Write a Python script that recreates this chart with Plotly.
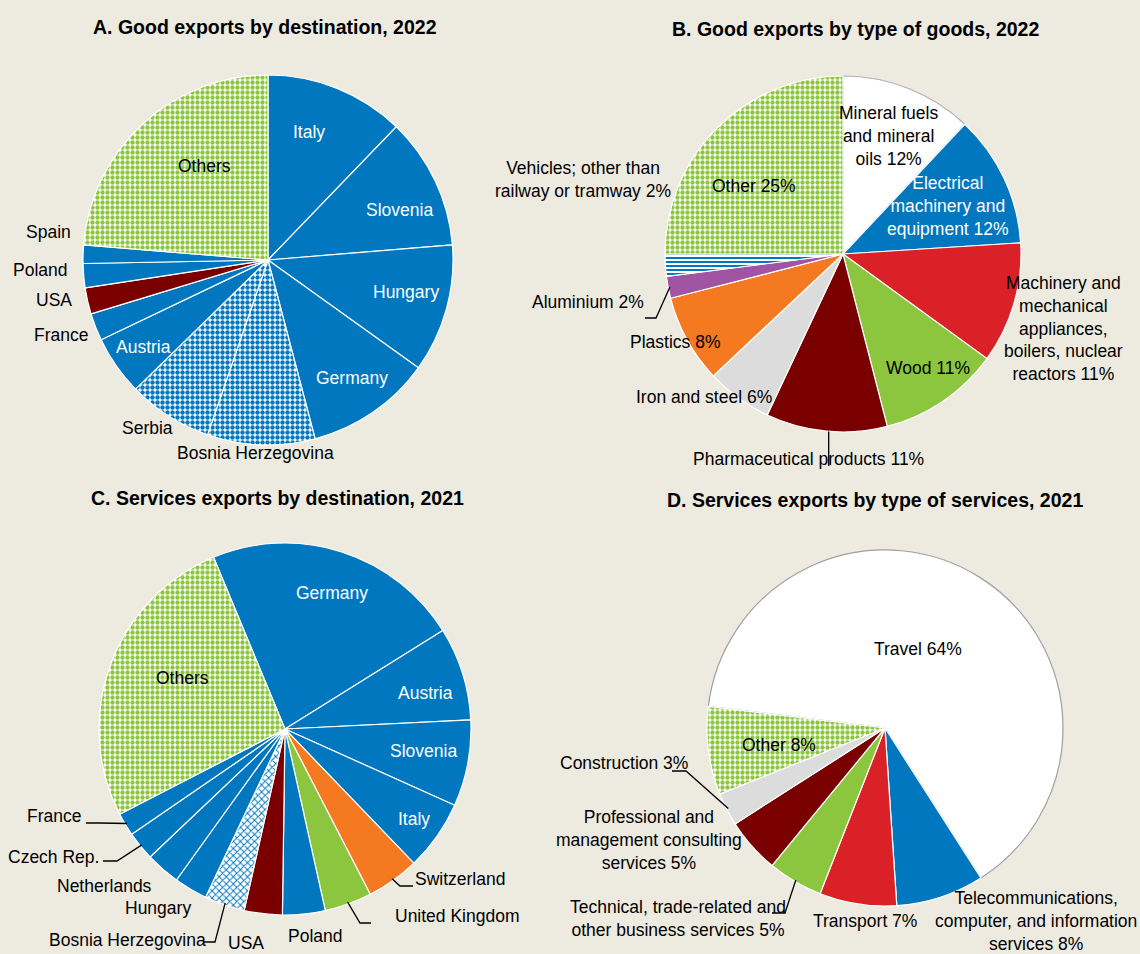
import math
import plotly.graph_objects as go

W, H = 1140, 954
BG = "#EDEAE0"
FONT = "Liberation Sans, Arial, sans-serif"
LABEL_SIZE = 17.5
TITLE_SIZE = 19.5

BLUE = "#0077BE"
DARKRED = "#7A0000"
RED = "#DA2128"
GREEN = "#8CC63F"
ORANGE = "#F47920"
PURPLE = "#A154A1"
LGREY = "#DCDCDC"
WHITE = "#FFFFFF"

# ---------------- A. Good exports by destination, 2022 ----------------
a_labels = ["Italy", "Slovenia", "Hungary", "Germany", "Bosnia Herzegovina", "Serbia",
            "Austria", "France", "USA", "Poland", "Spain", "Others"]
a_values = [12.2, 11.5, 11.2, 11.0, 9.4, 7.4, 5.2, 2.4, 2.3, 2.1, 1.6, 23.7]

# ---------------- B. Good exports by type of goods, 2022 ----------------
b_labels = ["Mineral fuels and mineral oils", "Electrical machinery and equipment",
            "Machinery and mechanical appliances, boilers, nuclear reactors", "Wood",
            "Pharmaceutical products", "Iron and steel", "Plastics", "Aluminium",
            "Vehicles; other than railway or tramway", "Other"]
b_values = [12, 12, 11, 11, 11, 6, 8, 2, 2, 25]

# ---------------- C. Services exports by destination, 2021 ----------------
c_labels = ["Germany", "Austria", "Slovenia", "Italy", "Switzerland", "United Kingdom",
            "Poland", "USA", "Bosnia Herzegovina", "Hungary", "Netherlands", "Czech Rep.",
            "France", "Others"]
c_values = [22.4, 8.1, 7.5, 6.1, 4.6, 4.1, 3.7, 3.3, 3.5, 2.9, 3.0, 2.5, 2.0, 26.3]

# ---------------- D. Services exports by type of services, 2021 ----------------
d_labels = ["Travel", "Telecommunications, computer, and information services", "Transport",
            "Technical, trade-related and other business services",
            "Professional and management consulting services", "Construction", "Other"]
d_values = [64, 8, 7, 5, 5, 3, 8]

# pie geometry (pixel centre and radius) and start angle
A_GEO = (268, 260, 185, 0)
B_GEO = (843, 254, 178, 0)
C_GEO = (285, 729, 186, -22.6)
D_GEO = (885, 728, 178, -83)


def domain(geo):
    cx, cy, r, _ = geo
    return dict(x=[(cx - r) / W, (cx + r) / W], y=[1 - (cy + r) / H, 1 - (cy - r) / H])


def slice_point(values, idx, geo, frac=0.5, rfac=1.0):
    cx, cy, r, rot = geo
    total = sum(values)
    ang = rot + 360 * (sum(values[:idx]) + frac * values[idx]) / total
    a = math.radians(ang)
    return cx + r * rfac * math.sin(a), cy - r * rfac * math.cos(a)


def pie(labels, values, geo, colors, shapes, fg, bg, lines, size, solidity):
    return go.Pie(
        labels=labels, values=values, sort=False, direction="clockwise",
        rotation=geo[3], domain=domain(geo), textinfo="none", hoverinfo="label+percent",
        showlegend=False,
        marker=dict(
            colors=colors,
            line=dict(color=lines, width=1.2),
            pattern=dict(shape=shapes, fgcolor=fg, bgcolor=bg, size=size,
                         solidity=solidity, fillmode="replace"),
        ),
    )


fig = go.Figure()

# A
a_colors = [BLUE] * 4 + [BLUE, BLUE, BLUE, BLUE, DARKRED, BLUE, BLUE, GREEN]
a_shapes = ["", "", "", "", ".", ".", "", "", "", "", "", "."]
a_fg = [BLUE] * 4 + [BLUE, BLUE] + [BLUE, BLUE, DARKRED, BLUE, BLUE] + [GREEN]
a_bg = [BLUE] * 4 + [WHITE, WHITE] + [BLUE, BLUE, DARKRED, BLUE, BLUE] + [WHITE]
a_size = [5] * 12
a_sol = [0.5] * 4 + [0.62, 0.62] + [0.5] * 5 + [0.6]
fig.add_trace(pie(a_labels, a_values, A_GEO, a_colors, a_shapes, a_fg, a_bg, [WHITE] * 12,
                  a_size, a_sol))

# B
b_colors = [WHITE, BLUE, RED, GREEN, DARKRED, LGREY, ORANGE, PURPLE, BLUE, GREEN]
b_shapes = [""] * 8 + ["-", "."]
b_fg = b_colors[:8] + [BLUE, GREEN]
b_bg = b_colors[:8] + [WHITE, WHITE]
b_lines = ["#B0B0B0"] + [WHITE] * 9
b_size = [4] * 9 + [5]
b_sol = [0.5] * 9 + [0.6]
fig.add_trace(pie(b_labels, b_values, B_GEO, b_colors, b_shapes, b_fg, b_bg, b_lines,
                  b_size, b_sol))

# C
c_colors = [BLUE, BLUE, BLUE, BLUE, ORANGE, GREEN, BLUE, DARKRED, BLUE, BLUE, BLUE, BLUE, BLUE, GREEN]
c_shapes = [""] * 8 + ["x"] + [""] * 4 + ["."]
c_fg = c_colors[:8] + [BLUE] + c_colors[9:13] + [GREEN]
c_bg = c_colors[:8] + [WHITE] + c_colors[9:13] + [WHITE]
c_size = [5] * 14
c_sol = [0.5] * 8 + [0.35] + [0.5] * 4 + [0.6]
fig.add_trace(pie(c_labels, c_values, C_GEO, c_colors, c_shapes, c_fg, c_bg, [WHITE] * 14,
                  c_size, c_sol))

# D
d_colors = [WHITE, BLUE, RED, GREEN, DARKRED, LGREY, GREEN]
d_shapes = [""] * 6 + ["."]
d_fg = d_colors[:6] + [GREEN]
d_bg = d_colors[:6] + [WHITE]
d_lines = ["#A0A0A0"] + [WHITE] * 6
d_size = [5] * 7
d_sol = [0.5] * 6 + [0.6]
fig.add_trace(pie(d_labels, d_values, D_GEO, d_colors, d_shapes, d_fg, d_bg, d_lines,
                  d_size, d_sol))

annotations = []


def text(x, y, s, color="black", size=LABEL_SIZE, bold=False, anchor="center"):
    annotations.append(dict(
        x=x / W, y=1 - y / H, xref="paper", yref="paper", text=f"<b>{s}</b>" if bold else s,
        showarrow=False, xanchor=anchor, yanchor="middle", align="center",
        font=dict(family=FONT, size=size, color=color),
    ))


# titles
text(265, 27, "A. Good exports by destination, 2022", size=TITLE_SIZE, bold=True)
text(855, 29, "B. Good exports by type of goods, 2022", size=TITLE_SIZE, bold=True)
text(277, 498, "C. Services exports by destination, 2021", size=TITLE_SIZE, bold=True)
text(875, 500, "D. Services exports by type of services, 2021", size=TITLE_SIZE, bold=True)

# A labels
text(309, 132, "Italy", WHITE)
text(399, 210, "Slovenia", WHITE)
text(406, 292, "Hungary", WHITE)
text(352, 378, "Germany", WHITE)
text(143, 347, "Austria", WHITE)
text(204, 166, "Others")
text(48, 232, "Spain")
text(40, 270, "Poland")
text(54, 300, "USA")
text(61, 335, "France")
text(147, 428, "Serbia")
text(255, 453, "Bosnia Herzegovina")

# B labels
text(888, 136, "Mineral fuels<br>and mineral<br>oils 12%")
text(948, 206, "Electrical<br>machinery and<br>equipment 12%", WHITE)
text(1063, 328, "Machinery and<br>mechanical<br>appliances,<br>boilers, nuclear<br>reactors 11%")
text(928, 368, "Wood 11%")
text(808, 459, "Pharmaceutical products 11%")
text(704, 397, "Iron and steel 6%")
text(675, 342, "Plastics 8%")
text(588, 302, "Aluminium 2%")
text(583, 180, "Vehicles; other than<br>railway or tramway 2%")
text(754, 186, "Other 25%")

# C labels
text(332, 593, "Germany", WHITE)
text(425, 693, "Austria", WHITE)
text(423, 751, "Slovenia", WHITE)
text(414, 819, "Italy", WHITE)
text(182, 678, "Others")
text(460, 879, "Switzerland")
text(457, 916, "United Kingdom")
text(316, 936, "Poland")
text(246, 943, "USA")
text(127, 940, "Bosnia Herzegovina")
text(158, 908, "Hungary")
text(104, 886, "Netherlands")
text(53, 857, "Czech Rep.")
text(54, 816, "France")

# D labels
text(918, 649, "Travel 64%")
text(779, 745, "Other 8%")
text(624, 763, "Construction 3%")
text(649, 840, "Professional and<br>management consulting<br>services 5%")
text(678, 918, "Technical, trade-related and<br>other business services 5%")
text(865, 921, "Transport 7%")
text(1036, 921, "Telecommunications,<br>computer, and information<br>services 8%")

# leader lines: fixed elbow near the label, end on the slice edge
shapes = []


def leader(points):
    path = "M " + " L ".join(f"{x / W},{1 - y / H}" for x, y in points)
    shapes.append(dict(type="path", path=path, xref="paper", yref="paper",
                       line=dict(color="black", width=1.3), layer="above"))


leader([(645, 318), (656, 318), slice_point(b_values, 7, B_GEO, rfac=0.99)])
px, py = slice_point(b_values, 4, B_GEO, frac=0.48)
leader([(px, py), (px, 466)])
leader([(86, 823), (100, 823), slice_point(c_values, 12, C_GEO, rfac=0.99)])
leader([(103, 861), (117, 861), slice_point(c_values, 11, C_GEO, rfac=0.99)])
leader([(203, 942), (215, 942), slice_point(c_values, 8, C_GEO, rfac=0.99)])
leader([(413, 886), (400, 886), slice_point(c_values, 4, C_GEO, rfac=0.99)])
leader([(371, 923), (360, 923), slice_point(c_values, 5, C_GEO, rfac=0.99)])
leader([(672, 771), (686, 771), slice_point(d_values, 5, D_GEO, rfac=0.99)])
leader([(772, 913), (785, 913), slice_point(d_values, 3, D_GEO, rfac=0.99)])

fig.update_layout(
    width=W, height=H, margin=dict(l=0, r=0, t=0, b=0),
    paper_bgcolor=BG, plot_bgcolor=BG,
    annotations=annotations, shapes=shapes,
    font=dict(family=FONT, size=LABEL_SIZE, color="black"),
)

fig.write_html("out.html")
